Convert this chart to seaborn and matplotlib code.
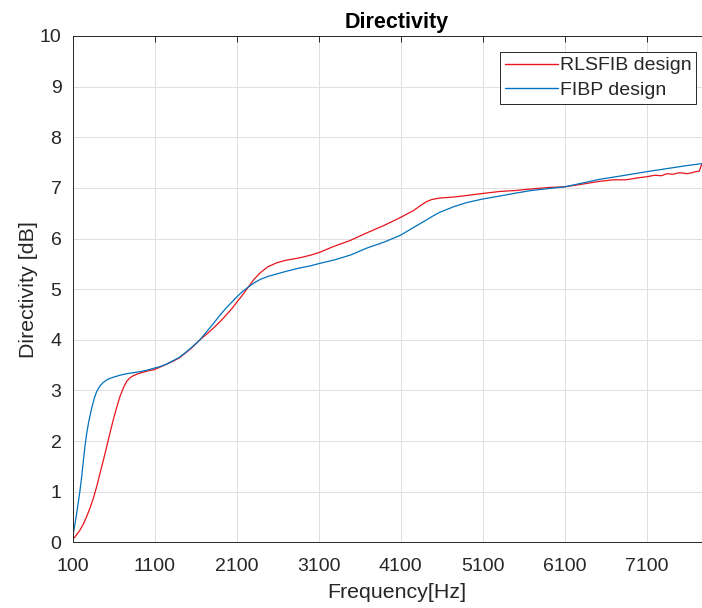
import matplotlib
matplotlib.use("Agg")
import matplotlib.pyplot as plt
import seaborn as sns
import pandas as pd

# values
rls_freq = [100, 151, 191, 232, 273, 314, 354, 395, 435, 476, 517, 557, 597, 638,
            679, 720, 761, 800, 841, 900, 963, 1030, 1097, 1167, 1248, 1330, 1400,
            1471, 1560, 1654, 1735, 1817, 1900, 1980, 2040, 2093, 2170, 2243, 2310,
            2386, 2480, 2589, 2700, 2873, 3000, 3117, 3279, 3483, 3686, 3900, 4092,
            4255, 4350, 4418, 4480, 4580, 4750, 4906, 5100, 5312, 5515, 5700, 5921,
            6096, 6300, 6530, 6700, 6850, 7000, 7100, 7200, 7280, 7344, 7420, 7500,
            7600, 7700, 7740, 7770]
rls_dir = [0.05, 0.15, 0.24, 0.36, 0.51, 0.68, 0.87, 1.10, 1.36, 1.62, 1.89, 2.16,
           2.42, 2.66, 2.88, 3.05, 3.18, 3.25, 3.29, 3.33, 3.36, 3.39, 3.41, 3.46,
           3.52, 3.58, 3.64, 3.73, 3.85, 4.00, 4.11, 4.23, 4.36, 4.50, 4.61, 4.72,
           4.88, 5.04, 5.19, 5.32, 5.44, 5.52, 5.57, 5.62, 5.67, 5.73, 5.84, 5.96,
           6.11, 6.26, 6.41, 6.55, 6.66, 6.73, 6.77, 6.80, 6.82, 6.85, 6.89, 6.93,
           6.95, 6.98, 7.01, 7.02, 7.07, 7.13, 7.16, 7.16, 7.20, 7.22, 7.25, 7.24,
           7.28, 7.27, 7.30, 7.28, 7.32, 7.33, 7.46]

fibp_freq = [100, 130, 151, 172, 191, 212, 232, 252, 273, 300, 334, 365, 395, 435,
             476, 530, 597, 680, 761, 841, 923, 1010, 1097, 1167, 1248, 1330, 1400,
             1471, 1560, 1654, 1735, 1817, 1900, 1980, 2040, 2093, 2170, 2243, 2310,
             2386, 2480, 2589, 2700, 2873, 3000, 3117, 3300, 3500, 3686, 3900, 4092,
             4250, 4418, 4500, 4580, 4750, 4906, 5100, 5312, 5515, 5700, 5921, 6096,
             6300, 6530, 6800, 7100, 7344, 7546, 7770]
fibp_dir = [0.08, 0.36, 0.58, 0.80, 1.02, 1.30, 1.60, 1.90, 2.15, 2.40, 2.65, 2.84,
            2.98, 3.09, 3.16, 3.22, 3.26, 3.30, 3.33, 3.35, 3.37, 3.40, 3.44, 3.47,
            3.52, 3.59, 3.65, 3.74, 3.86, 4.00, 4.16, 4.32, 4.49, 4.64, 4.74, 4.83,
            4.95, 5.04, 5.12, 5.19, 5.25, 5.30, 5.35, 5.42, 5.46, 5.51, 5.58, 5.68,
            5.81, 5.93, 6.06, 6.21, 6.37, 6.45, 6.52, 6.63, 6.71, 6.78, 6.84, 6.90,
            6.95, 6.99, 7.02, 7.09, 7.17, 7.24, 7.32, 7.38, 7.43, 7.48]

series_names = ["RLSFIB design", "FIBP design"]
x_ticks = [100, 1100, 2100, 3100, 4100, 5100, 6100, 7100]
y_ticks = list(range(0, 11))

df = pd.concat([
    pd.DataFrame({"freq": rls_freq, "dir": rls_dir, "design": series_names[0]}),
    pd.DataFrame({"freq": fibp_freq, "dir": fibp_dir, "design": series_names[1]}),
], ignore_index=True)

sns.set_theme(style="whitegrid")
plt.rcParams['font.family'] = ['Liberation Sans', 'DejaVu Sans']

fig = plt.figure(figsize=(7.02, 6.08), dpi=100)
fig.patch.set_facecolor("white")
# axes runs past the right edge, like the cropped original
ax = fig.add_axes([72.5 / 702, (608 - 542.3) / 608, 648 / 702, (542.3 - 36) / 608])
ax.set_facecolor("white")

sns.lineplot(data=df, x="freq", y="dir", hue="design", hue_order=series_names,
             palette={"RLSFIB design": "#e8141b", "FIBP design": "#0072bd"},
             linewidth=0.9, estimator=None, ax=ax)

ax.set_xlim(100, 8000)
ax.set_ylim(0, 10)
ax.set_xticks(x_ticks)
ax.set_yticks(y_ticks)

ax.grid(True, color="#dedede", linewidth=0.7)
for side in ["left", "top", "bottom"]:
    ax.spines[side].set_color("#262626")
    ax.spines[side].set_linewidth(0.7)
ax.spines["right"].set_visible(False)

ax.tick_params(axis="both", direction="in", length=4, width=0.7, colors="#262626",
               labelsize=14, top=True)
ax.tick_params(axis="x", pad=11)
ax.tick_params(axis="y", pad=8)

ax.set_title("Directivity", fontsize=15.5, fontweight="bold", color="black", pad=6)
ax.set_xlabel("Frequency[Hz]", fontsize=15.4, color="#262626", labelpad=6)
ax.set_ylabel("Directivity [dB]", fontsize=15.4, color="#262626", labelpad=1)

handles, labels = ax.get_legend_handles_labels()
leg = ax.legend(handles, labels, loc="upper right",
                bbox_to_anchor=(696 / 702, 1 - 52 / 608), bbox_transform=fig.transFigure,
                frameon=True, fancybox=False, framealpha=1, edgecolor="#262626",
                fontsize=14, borderaxespad=0, borderpad=0.25, handlelength=2.7,
                handletextpad=0.1, labelspacing=0.35)
leg.get_frame().set_linewidth(0.7)
for line in leg.get_lines():
    line.set_linewidth(1.0)

fig.savefig("out.png", dpi=100, facecolor="white")
